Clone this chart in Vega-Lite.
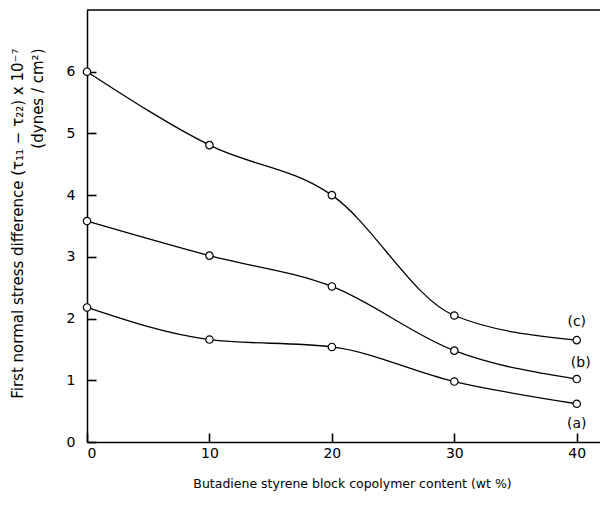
{
  "$schema": "https://vega.github.io/schema/vega-lite/v6.json",
  "width": 513,
  "height": 432,
  "autosize": "none",
  "padding": {"left": 87, "top": 10, "right": 0, "bottom": 68},
  "background": "white",
  "config": {"view": {"stroke": null}, "font": "DejaVu Sans"},
  "data": {"values": [
    {"series": "a", "wt": 0, "val": 2.18},
    {"series": "a", "wt": 10, "val": 1.66},
    {"series": "a", "wt": 20, "val": 1.54},
    {"series": "a", "wt": 30, "val": 0.98},
    {"series": "a", "wt": 40, "val": 0.62},
    {"series": "b", "wt": 0, "val": 3.58},
    {"series": "b", "wt": 10, "val": 3.02},
    {"series": "b", "wt": 20, "val": 2.52},
    {"series": "b", "wt": 30, "val": 1.48},
    {"series": "b", "wt": 40, "val": 1.02},
    {"series": "c", "wt": 0, "val": 6.0},
    {"series": "c", "wt": 10, "val": 4.81},
    {"series": "c", "wt": 20, "val": 4.0},
    {"series": "c", "wt": 30, "val": 2.05},
    {"series": "c", "wt": 40, "val": 1.65}
  ]},
  "layer": [
    {
      "data": {"values": [{}]},
      "mark": {"type": "rule", "color": "black", "strokeWidth": 1.5},
      "encoding": {"y": {"datum": 7, "type": "quantitative", "scale": {"domain": [0, 7], "nice": false}}}
    },
    {
      "mark": {"type": "line", "interpolate": "monotone", "color": "black", "strokeWidth": 1.3},
      "encoding": {
        "x": {"field": "wt", "type": "quantitative",
          "scale": {"domain": [0, 41.9], "nice": false, "zero": false},
          "axis": {"orient": "bottom", "values": [0, 10, 20, 30, 40], "format": "d", "title": "Butadiene styrene block copolymer content (wt %)",
            "grid": true, "gridColor": "black", "gridWidth": 1.6, "gridDash": [0, 423, 9, 2000], "gridOpacity": 1,
            "ticks": false, "domainWidth": 1.5,
            "domainColor": "black", "labelColor": "black", "titleColor": "black",
            "labelFontSize": 14, "labelPadding": 4, "titleFontSize": 12.5, "titleFontWeight": "normal", "titlePadding": 17, "titleX": 265}},
        "y": {"field": "val", "type": "quantitative",
          "scale": {"domain": [0, 7], "nice": false},
          "axis": {"orient": "left", "values": [0, 1, 2, 3, 4, 5, 6], "format": "d",
            "title": ["First normal stress difference (τ₁₁ − τ₂₂) x 10⁻⁷", "(dynes / cm²)"],
            "grid": true, "gridColor": "black", "gridWidth": 1.6, "gridDash": [9, 2000], "gridOpacity": 1,
            "ticks": false, "domainWidth": 1.5,
            "domainColor": "black", "labelColor": "black", "titleColor": "black",
            "labelFontSize": 14, "labelPadding": 12, "titleFontSize": 15, "titleLineHeight": 20, "titleFontWeight": "normal",
            "titleAlign": "right", "titleY": 38, "titleX": -62}},
        "detail": {"field": "series"}
      }
    },
    {
      "mark": {"type": "point", "shape": "circle", "filled": true, "fill": "white", "stroke": "black", "strokeWidth": 1.2, "size": 55, "opacity": 1},
      "encoding": {
        "x": {"field": "wt", "type": "quantitative"},
        "y": {"field": "val", "type": "quantitative"}
      }
    },
    {
      "transform": [{"filter": "datum.wt == 40 && datum.series == 'c'"}],
      "mark": {"type": "text", "dy": -18, "fontSize": 14, "color": "black"},
      "encoding": {"x": {"field": "wt", "type": "quantitative"}, "y": {"field": "val", "type": "quantitative"}, "text": {"value": "(c)"}}
    },
    {
      "transform": [{"filter": "datum.wt == 40 && datum.series == 'b'"}],
      "mark": {"type": "text", "dy": -16, "dx": 4, "fontSize": 14, "color": "black"},
      "encoding": {"x": {"field": "wt", "type": "quantitative"}, "y": {"field": "val", "type": "quantitative"}, "text": {"value": "(b)"}}
    },
    {
      "transform": [{"filter": "datum.wt == 40 && datum.series == 'a'"}],
      "mark": {"type": "text", "dy": 20, "fontSize": 14, "color": "black"},
      "encoding": {"x": {"field": "wt", "type": "quantitative"}, "y": {"field": "val", "type": "quantitative"}, "text": {"value": "(a)"}}
    }
  ]
}
